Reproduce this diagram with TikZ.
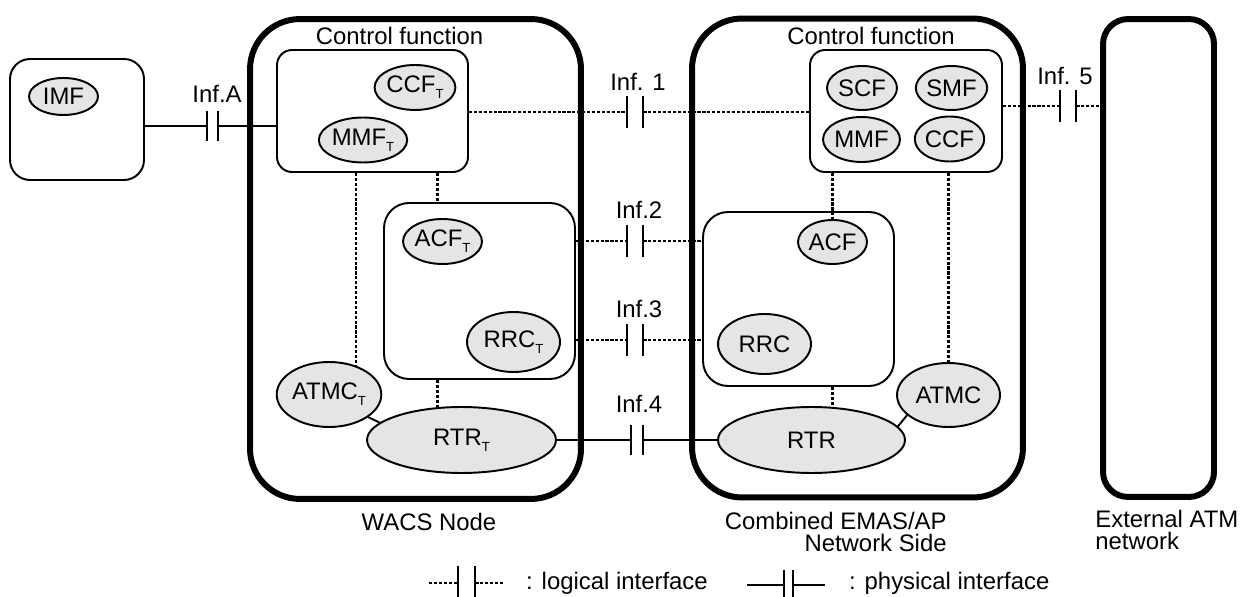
\documentclass[tikz,border=0pt]{standalone}
\usepackage{fontspec}
\setmainfont{Liberation Sans}
\usetikzlibrary{shapes.geometric,backgrounds}
\newcommand{\tsub}{\raisebox{-0.5ex}{\fontsize{7.5}{7.5}\selectfont T}}

\begin{document}
\begin{tikzpicture}[x=0.02cm, y=-0.02cm,
	every node/.style={font=\fontsize{13.6}{12.5}\selectfont},
	func/.style={ellipse, draw, fill=black!10, line width=1.1pt, inner sep=0pt},
	bigbox/.style={draw, line width=3.4pt, rounded corners=1cm},
	cfbox/.style={draw, line width=1.1pt, rounded corners=0.3cm},
	acbox/.style={draw, line width=1.1pt, rounded corners=0.5cm},
	logic/.style={line width=1.7pt, dash pattern=on 1.8pt off 1pt},
	phys/.style={line width=1.1pt},
	ifgap/.style={inner sep=0pt, minimum width=0.32cm, minimum height=0.62cm}]
	\useasboundingbox (0,0) rectangle (1243,597);

	% boxes
	\node[cfbox, rounded corners=0.4cm, minimum width=2.68cm, minimum height=2.42cm] (imfbox) at (77,119.5) {};
	\node[bigbox, minimum width=6.62cm, minimum height=9.6cm] (wacs) at (415.5,259) {};
	\node[cfbox, minimum width=3.82cm, minimum height=2.44cm] (cfL) at (372.5,111) {};
	\node[acbox, minimum width=3.82cm, minimum height=3.52cm] (accL) at (479.5,291) {};
	\node[bigbox, minimum width=6.62cm, minimum height=9.58cm] (emas) at (857.5,258) {};
	\node[cfbox, minimum width=3.84cm, minimum height=2.44cm] (cfR) at (906,111) {};
	\node[acbox, minimum width=3.82cm, minimum height=3.48cm] (accR) at (798.5,299) {};
	\node[bigbox, rounded corners=0.5cm, minimum width=2.22cm, minimum height=9.56cm] (ext) at (1158.5,258) {};

	% functions
	\node[func, minimum width=1.38cm, minimum height=0.74cm] (imf) at (63.5,96.5) {IMF};
	\node[func, minimum width=1.52cm, minimum height=0.9cm] (ccfT) at (415,87.5) {CCF\tsub};
	\node[func, minimum width=1.62cm, minimum height=0.9cm] (mmfT) at (363,140) {MMF\tsub};
	\node[func, minimum width=1.38cm, minimum height=0.9cm] (acfT) at (442.5,241.5) {ACF\tsub};
	\node[func, minimum width=1.86cm, minimum height=1.2cm] (rrcT) at (513.5,342) {RRC\tsub};
	\node[func, minimum width=2.04cm, minimum height=1.3cm] (atmcT) at (329,394.5) {ATMC\tsub};
	\node[func, minimum width=3.78cm, minimum height=1.32cm] (rtrT) at (461.5,440) {RTR\tsub};
	\node[func, minimum width=1.4cm, minimum height=0.88cm] (scf) at (862,88) {SCF};
	\node[func, minimum width=1.38cm, minimum height=0.88cm] (smf) at (951.5,88) {SMF};
	\node[func, minimum width=1.38cm, minimum height=0.9cm] (mmf) at (861.5,139.5) {MMF};
	\node[func, minimum width=1.38cm, minimum height=0.9cm] (ccf) at (949.5,139) {CCF};
	\node[func, minimum width=1.38cm, minimum height=0.88cm] (acf) at (832.5,242) {ACF};
	\node[func, minimum width=1.86cm, minimum height=1.2cm] (rrc) at (764.5,344) {RRC};
	\node[func, minimum width=2.06cm, minimum height=1.28cm] (atmc) at (948.5,395) {ATMC};
	\node[func, minimum width=3.74cm, minimum height=1.32cm] (rtr) at (811.5,440) {RTR};

	% interfaces
	\node[ifgap, minimum width=0.22cm, minimum height=0.6cm] (infA) at (212.5,126) {};
	\node[ifgap] (inf1) at (635,112) {};
	\node[ifgap] (inf2) at (635,241) {};
	\node[ifgap] (inf3) at (635,340) {};
	\node[ifgap, minimum width=0.24cm, minimum height=0.6cm] (inf4) at (637,440) {};
	\node[ifgap] (inf5) at (1068,106) {};
	\node[anchor=base] (infAlbl) at (217,103) {Inf.A};
	\node[anchor=base] (inf1lbl) at (638,91) {Inf. 1};
	\node[anchor=base] (inf2lbl) at (639,219) {Inf.2};
	\node[anchor=base] (inf3lbl) at (639,318) {Inf.3};
	\node[anchor=base] (inf4lbl) at (639,413) {Inf.4};
	\node[anchor=base] (inf5lbl) at (1065,85) {Inf. 5};

	\draw[phys] (imfbox.east |- infA) -- (infA.west);
	\draw[phys] (infA.east) -- (cfL.west |- infA);
	\draw[logic] (cfL.east |- inf1) -- (inf1.west);
	\draw[logic] (inf1.east) -- (cfR.west |- inf1);
	\draw[logic] (accL.east |- inf2) -- (inf2.west);
	\draw[logic] (inf2.east) -- (accR.west |- inf2);
	\draw[logic] (accL.east |- inf3) -- (inf3.west);
	\draw[logic] (inf3.east) -- (accR.west |- inf3);
	\draw[phys] (rtrT.east) -- (inf4.west);
	\draw[phys] (inf4.east) -- (rtr.west);
	\draw[logic] (cfR.east |- inf5) -- (inf5.west);
	\draw[logic] (inf5.east) -- (ext.west |- inf5);

	% inside links
	\coordinate (dL1) at (356,0);
	\coordinate (dL2) at (437,0);
	\draw[logic] (cfL.south -| dL2) -- (accL.north -| dL2);
	\draw[logic] (cfR.south -| acf) -- (acf.north);
	\draw[logic] (cfR.south -| atmc) -- (atmc.north);
	\begin{scope}[on background layer]
		\draw[logic] (cfL.south -| dL1) -- (atmcT.center -| dL1);
		\draw[logic] (accL.south -| dL2) -- (rtrT.center -| dL2);
		\draw[logic] (accR.south -| acf) -- (rtr.center -| acf);
	\end{scope}
	\draw[phys] (atmcT.-30) -- (rtrT.168);
	\draw[phys] (rtr.9) -- (atmc.-154);

	% titles
	\node[anchor=base] (cfLlbl) at (399.5,45) {Control function};
	\node[anchor=base] (cfRlbl) at (871,45) {Control function};
	\node[anchor=base] (wacslbl) at (429,530) {WACS Node};
	\node[anchor=north east, align=right, inner sep=0pt] (emaslbl) at (947,512) {Combined EMAS/AP\\Network Side};
	\node[anchor=north west, align=left, inner sep=0pt] (extlbl) at (1095,510) {External ATM\\network};

	% legend
	\node[ifgap, minimum width=0.34cm, minimum height=0.68cm] (lglog) at (466.5,583) {};
	\node[ifgap, minimum width=0.18cm, minimum height=0.6cm] (lgphy) at (788.5,585) {};
	\coordinate (lglogA) at (429,583);
	\coordinate (lglogB) at (503,583);
	\coordinate (lgphyA) at (747,585);
	\coordinate (lgphyB) at (825,585);
	\draw[logic, line width=1.3pt] (lglogA) -- (lglog.west) (lglog.east) -- (lglogB);
	\draw[phys] (lgphyA) -- (lgphy.west) (lgphy.east) -- (lgphyB);
	\node[anchor=base west] (lglogtxt) at (520,589) {: logical interface};
	\node[anchor=base west] (lgphytxt) at (843,589) {: physical interface};

	\foreach \c in {infA,inf1,inf2,inf3,inf4,inf5,lglog,lgphy}
		\draw[phys] (\c.north west) -- (\c.south west) (\c.north east) -- (\c.south east);
\end{tikzpicture}
\end{document}
